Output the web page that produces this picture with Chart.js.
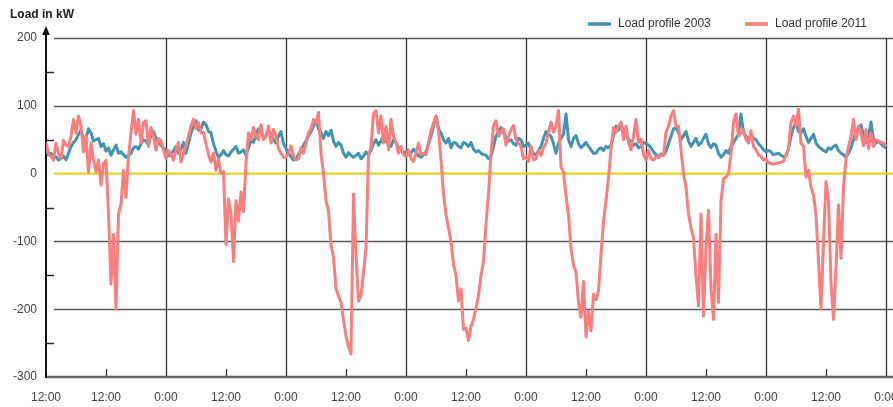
<!DOCTYPE html>
<html>
<head>
<meta charset="utf-8">
<script src="https://cdn.jsdelivr.net/npm/chart.js@4.4.1/dist/chart.umd.min.js"></script>
<style>
  html, body { margin: 0; padding: 0; background: #ffffff; overflow: hidden; }
  #wrap { width: 893px; height: 407px; }
</style>
</head>
<body>
<div id="wrap"><canvas id="c" width="893" height="407"></canvas></div>
<script>
// ---------------- DATA ----------------
const titleText = 'Load in kW';
const seriesNames = ['Load profile 2003', 'Load profile 2011'];

// x axis: hours since start of the plotted period
const tickHours = [0, 12, 24, 36, 48, 60, 72, 84, 96, 108, 120, 132, 144, 156, 168];
const tickLabels = ['12:00', '12:00', '0:00', '12:00', '0:00', '12:00', '0:00', '12:00', '0:00', '12:00', '0:00', '12:00', '0:00', '12:00', '0:00'];

// sampling interval (hours) of each series
const step2003 = 0.5;
const step2011 = 0.5;

// Load profile 2003 (kW), half-hourly, h0..h168
const load2003 = [
  34, 28, 30, 24, 25, 20, 22, 26, 20, 30, 40, 46, 50, 58, 64, 50, 52, 66, 60, 48,
  50, 52, 40, 44, 33, 38, 27, 35, 42, 30, 32, 28, 24, 27, 30, 38, 40, 36, 44, 50,
  48, 42, 58, 62, 52, 46, 42, 38, 35,
  26, 28, 34, 40, 30, 36, 46, 30, 45, 60, 70, 78, 64, 66, 76, 72, 62, 60, 44, 33,
  24, 28, 34, 28, 26, 32, 36, 40, 30, 32, 35, 27, 38, 50, 46, 58, 66, 62, 52, 56,
  64, 58, 50, 45, 55, 62, 44, 37,
  30, 25, 20, 22, 28, 35, 42, 48, 56, 62, 70, 78, 66, 60, 52, 62, 56, 64, 48, 40,
  46, 42, 30, 24, 31, 27, 24, 27, 30, 22, 26, 32, 28, 34, 44, 50, 42, 48, 55, 48,
  44, 40, 50, 46, 38, 34, 30, 32,
  28, 30, 36, 32, 26, 24, 28, 32, 44, 55, 70, 85, 66, 60, 50, 45, 52, 38, 46, 45,
  40, 38, 46, 44, 40, 46, 36, 32, 34, 30, 28, 27, 22, 25, 40, 55, 62, 68, 60, 55,
  48, 50, 44, 42, 52, 50, 40, 42,
  45, 36, 30, 27, 34, 40, 52, 62, 58, 55, 44, 30, 45, 52, 58, 88, 50, 40, 52, 56,
  44, 38, 42, 46, 40, 35, 30, 30, 36, 38, 34, 40, 38, 42, 56, 70, 64, 72, 62, 58,
  50, 48, 42, 44, 38, 40, 46, 44,
  42, 38, 32, 28, 24, 29, 27, 33, 44, 55, 66, 68, 60, 50, 56, 62, 48, 40, 46, 52,
  42, 45, 52, 58, 44, 38, 44, 42, 30, 24, 28, 34, 30, 40, 46, 52, 58, 88, 60, 55,
  50, 58, 52, 50, 44, 40, 35, 32,
  34, 32, 28, 29, 30, 27, 25, 26, 36, 55, 68, 75, 62, 60, 66, 55, 46, 52, 58, 45,
  40, 37, 34, 32, 38, 36, 40, 42, 34, 30, 28, 24, 30, 38, 50, 62, 66, 72, 56, 46,
  54, 76, 50, 45, 48, 44, 40, 38
];

// Load profile 2011 (kW), half-hourly, h0..h168
const load2011 = [
  46, 30, 25, 20, 45, 30, 22, 49, 42, 40, 55, 80, 60, 85, 70, 32, 55, 2, 45, 20, 3, 20, -17, 15, 20,
  -60, -163, -90, -200, -60, -45, 5, -35, 25, 60, 93, 58, 80, 45, 75, 78, 40, 68, 55, 35, 52, 48, 35, 22,
  34, 28, 20, 35, 46, 17, 30, 41, 55, 70, 80, 66, 75, 60, 61, 44, 28, 17, 30, 5,
  22, 0, 3, -105, -37, -60, -130, -40, -70, -27, -56, 15, 60, 50, 68, 55, 50, 72, 50, 55,
  70, 45, 65, 55, 37, 30, 24, 24,
  30, 41, 25, 20, 22, 38, 30, 45, 60, 66, 80, 75, 90, 30, 0, -40, -55, -105, -124, -170,
  -180, -190, -215, -240, -255, -266, -30, -120, -188, -180, -146, -110, 25, 40, 88, 93, 60, 85, 45, 70,
  35, 80, 55, 45, 30, 40, 28, 25,
  35, 22, 18, 30, 45, 28, 30, 28, 45, 63, 75, 85, 63, 20, -30, -60, -80, -100, -134, -150,
  -188, -170, -230, -228, -246, -225, -215, -198, -180, -150, -130, -75, -30, 30, 71, 78, 55, 62, 66, 42,
  55, 65, 71, 50, 45, 40, 22, 25,
  18, 40, 20, 22, 34, 27, 38, 45, 61, 76, 61, 70, 93, 10, 2, -32, -61, -110, -135, -145,
  -190, -212, -159, -241, -203, -232, -178, -186, -173, -120, -70, -40, -7, 37, 68, 61, 70, 76, 50, 70,
  46, 35, 55, 80, 46, 51, 29, 20,
  34, 22, 20, 25, 24, 27, 27, 61, 70, 85, 93, 70, 70, 35, 0, -20, -60, -80, -95, -150,
  -195, -60, -210, -110, -54, -170, -215, -90, -190, -40, -8, -5, 0, 30, 75, 88, 55, 60, 65, 50,
  45, 63, 40, 35, 28, 25, 20, 22,
  16, 15, 14, 15, 16, 17, 18, 28, 37, 75, 85, 70, 95, 45, 40, -5, 5, -20, -32, -60,
  -130, -200, -100, -12, -40, -160, -215, -140, -46, -125, -20, 22, 40, 55, 80, 50, 70, 60, 41, 65,
  37, 60, 40, 50, 48, 46, 45, 40
];

const yMin = -300, yMax = 200, yMinorStep = 50, yMajorStep = 100;
const xMin = 0, xMax = 169.4;

// ---------------- STYLE ----------------
const COLOR_2003 = 'rgb(66,149,176)';
const COLOR_2011 = 'rgb(250,126,126)';
const FONT = '"Liberation Sans", Arial, Helvetica, sans-serif';

const toPoints = (vals, step) => vals.map((v, i) => ({ x: i * step, y: v }));

const decor = {
  id: 'decor',
  beforeDatasetsDraw(chart) {
    const { ctx, chartArea: a, scales: { x, y } } = chart;
    ctx.save();
    y.ticks.forEach(t => {
      const py = Math.round(y.getPixelForValue(t.value)) + 0.5;
      if (t.value === yMin) return;
      if (t.value % yMajorStep === 0) {
        if (t.value === 0) return;
        ctx.strokeStyle = '#5a5a5a';
        ctx.lineWidth = 1.4;
        ctx.beginPath(); ctx.moveTo(a.left + 8, py); ctx.lineTo(a.right, py); ctx.stroke();
      } else {
        ctx.strokeStyle = '#222';
        ctx.lineWidth = 1.4;
        ctx.beginPath(); ctx.moveTo(a.left, py); ctx.lineTo(a.left + 8, py); ctx.stroke();
      }
    });
    tickHours.forEach((h, i) => {
      const px = Math.round(x.getPixelForValue(h)) + 0.5;
      if (i === 0) return;
      ctx.strokeStyle = '#333';
      ctx.lineWidth = 1.3;
      ctx.beginPath();
      if (tickLabels[i] === '0:00') {
        ctx.moveTo(px, a.top); ctx.lineTo(px, a.bottom);
      } else {
        ctx.moveTo(px, a.bottom - 8); ctx.lineTo(px, a.bottom);
      }
      ctx.stroke();
    });
    const p0 = y.getPixelForValue(0);
    ctx.strokeStyle = '#e6d322';
    ctx.lineWidth = 2.2;
    ctx.beginPath(); ctx.moveTo(a.left + 8, p0); ctx.lineTo(a.right, p0); ctx.stroke();
    const pb = y.getPixelForValue(yMin);
    ctx.strokeStyle = '#6a6a6a';
    ctx.lineWidth = 2.4;
    ctx.beginPath(); ctx.moveTo(a.left, pb); ctx.lineTo(a.right, pb); ctx.stroke();
    ctx.strokeStyle = '#111';
    ctx.lineWidth = 2;
    ctx.beginPath(); ctx.moveTo(a.left, a.top - 6); ctx.lineTo(a.left, pb + 1); ctx.stroke();
    ctx.fillStyle = '#111';
    ctx.beginPath();
    ctx.moveTo(a.left, a.top - 12);
    ctx.lineTo(a.left - 3.8, a.top - 3);
    ctx.lineTo(a.left + 3.8, a.top - 3);
    ctx.closePath(); ctx.fill();
    ctx.restore();
  },
  afterDraw(chart) {
    const { ctx } = chart;
    ctx.save();
    ctx.textBaseline = 'middle';
    ctx.fillStyle = '#222';
    ctx.font = 'bold 12px ' + FONT;
    ctx.fillText(titleText, 10, 15);
    const items = [
      { x: 588, color: chart.data.datasets[0].borderColor, text: chart.data.datasets[0].label },
      { x: 745, color: chart.data.datasets[1].borderColor, text: chart.data.datasets[1].label }
    ];
    ctx.font = '12px ' + FONT;
    items.forEach(it => {
      ctx.strokeStyle = it.color;
      ctx.lineWidth = 3.5;
      ctx.beginPath(); ctx.moveTo(it.x, 24); ctx.lineTo(it.x + 23, 24); ctx.stroke();
      ctx.fillStyle = '#333';
      ctx.fillText(it.text, it.x + 30, 24);
    });
    ctx.restore();
  }
};

new Chart(document.getElementById('c'), {
  type: 'line',
  data: {
    datasets: [
      { label: seriesNames[0], order: 1, data: toPoints(load2003, step2003), borderColor: COLOR_2003, borderWidth: 3, pointRadius: 0, tension: 0, borderJoinStyle: 'round' },
      { label: seriesNames[1], order: 0, data: toPoints(load2011, step2011), borderColor: COLOR_2011, borderWidth: 3, pointRadius: 0, tension: 0, borderJoinStyle: 'round' }
    ]
  },
  options: {
    responsive: false,
    animation: false,
    devicePixelRatio: 1,
    layout: { padding: { top: 38, left: 0, right: 0, bottom: 0 } },
    plugins: { legend: { display: false }, title: { display: false }, tooltip: { enabled: false } },
    scales: {
      x: {
        type: 'linear', min: xMin, max: xMax,
        grid: { display: false, drawTicks: false }, border: { display: false },
        ticks: {
          autoSkip: false, maxRotation: 0, minRotation: 0, padding: 13,
          color: '#444', font: { family: FONT, size: 12 },
          callback: (v, i) => tickLabels[i]
        },
        afterBuildTicks: s => { s.ticks = tickHours.map(v => ({ value: v })); },
        afterFit: s => { s.paddingLeft = 0; s.paddingRight = 0; s.height = 30; }
      },
      y: {
        type: 'linear', min: yMin, max: yMax,
        grid: { display: false, drawTicks: false }, border: { display: false },
        ticks: {
          stepSize: yMinorStep, padding: 9, color: '#444', font: { family: FONT, size: 12 },
          callback: v => (v % yMajorStep === 0 ? String(v) : '')
        },
        afterFit: s => { s.width = 46; s.paddingTop = 0; s.paddingBottom = 0; }
      }
    }
  },
  plugins: [decor]
});
</script>
</body>
</html>
